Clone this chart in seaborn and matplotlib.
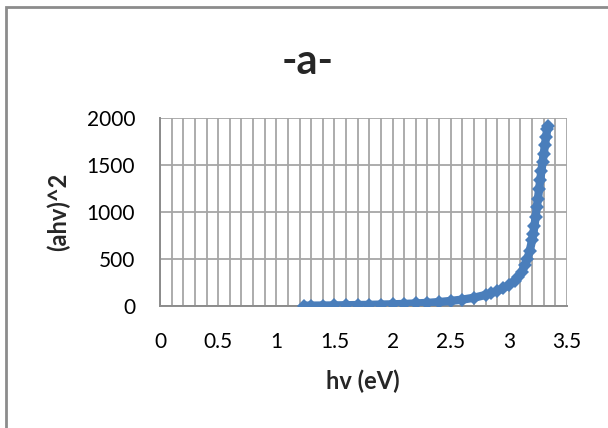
import matplotlib
matplotlib.use("Agg")
import matplotlib.pyplot as plt
import seaborn as sns
import pandas as pd
from matplotlib.patches import Rectangle
from matplotlib.ticker import MultipleLocator

# Data
hv = [1.24, 1.30, 1.40, 1.50, 1.60, 1.70, 1.80, 1.90, 2.00, 2.10, 2.20, 2.30,
      2.40, 2.50, 2.60, 2.70, 2.80, 2.85, 2.90, 2.95, 3.00, 3.05, 3.08, 3.11,
      3.14, 3.16, 3.18, 3.20, 3.21, 3.22, 3.23, 3.24, 3.25, 3.26, 3.27, 3.28,
      3.29, 3.30, 3.31, 3.32, 3.33, 3.34]
ahv2 = [3, 4, 5, 6, 8, 10, 12, 15, 18, 22, 27, 33,
        42, 54, 68, 88, 118, 138, 160, 190, 220, 270, 310, 360,
        440, 500, 590, 700, 770, 850, 950, 1050, 1140, 1240, 1340, 1440,
        1530, 1620, 1710, 1800, 1880, 1910]
x_ticks = [0, 0.5, 1, 1.5, 2, 2.5, 3, 3.5]
y_ticks = [0, 500, 1000, 1500, 2000]
title = "-a-"
xlabel = "hv (eV)"
ylabel = "(ahv)^2"

df = pd.DataFrame({"hv": hv, "ahv2": ahv2})

sns.set_style("white")
plt.rcParams["font.family"] = ["Lato", "DejaVu Sans"]

fig = plt.figure(figsize=(6.08, 4.28), dpi=100)
ax = fig.add_axes([160 / 608, 1 - 306 / 428, 407 / 608, 188 / 428])

color = "#4A7EBB"
sns.lineplot(data=df, x="hv", y="ahv2", ax=ax, color=color, linewidth=6,
             marker="D", markersize=7.5, markeredgewidth=0, zorder=3,
             solid_capstyle="butt", solid_joinstyle="round")

ax.set_xlim(0, 3.5)
ax.set_ylim(0, 2000)
ax.set_xticks(x_ticks)
ax.set_xticklabels([f"{t:g}" for t in x_ticks])
ax.set_yticks(y_ticks)
ax.set_yticklabels([str(t) for t in y_ticks])
ax.xaxis.set_minor_locator(MultipleLocator(0.1))

gcol = "#a6a6a6"
ax.grid(True, which="major", axis="both", color=gcol, linewidth=1.3)
ax.grid(True, which="minor", axis="x", color=gcol, linewidth=1.3)
ax.set_axisbelow(True)

for s in ["top", "right"]:
    ax.spines[s].set_visible(False)
for s in ["left", "bottom"]:
    ax.spines[s].set_color("#8c8c8c")
    ax.spines[s].set_linewidth(1.4)

ax.tick_params(axis="both", which="major", direction="out", length=6,
               width=1.3, color="#8c8c8c", labelsize=15, labelcolor="black")
ax.tick_params(axis="x", which="major", pad=13)
ax.tick_params(axis="y", which="major", pad=12)
ax.tick_params(axis="x", which="minor", length=0)

ax.set_xlabel(xlabel, fontsize=17, fontweight="bold")
ax.set_ylabel(ylabel, fontsize=17, fontweight="bold")
ax.xaxis.set_label_coords((363 - 160) / 407, (306 - 370) / 188)
ax.yaxis.set_label_coords((70 - 160) / 407, 0.5)

fig.text(308 / 608, 1 - 62 / 428, title, fontsize=30, fontweight="bold",
         ha="center", va="center")

# outer chart-area border (extends past the right and bottom edges)
fig.add_artist(Rectangle((6 / 608, -0.5), 2.0, 1 - 7 / 428 + 0.5,
                         transform=fig.transFigure, fill=False,
                         edgecolor="#8c8c8c", linewidth=2))

fig.savefig("out.png", dpi=100)
